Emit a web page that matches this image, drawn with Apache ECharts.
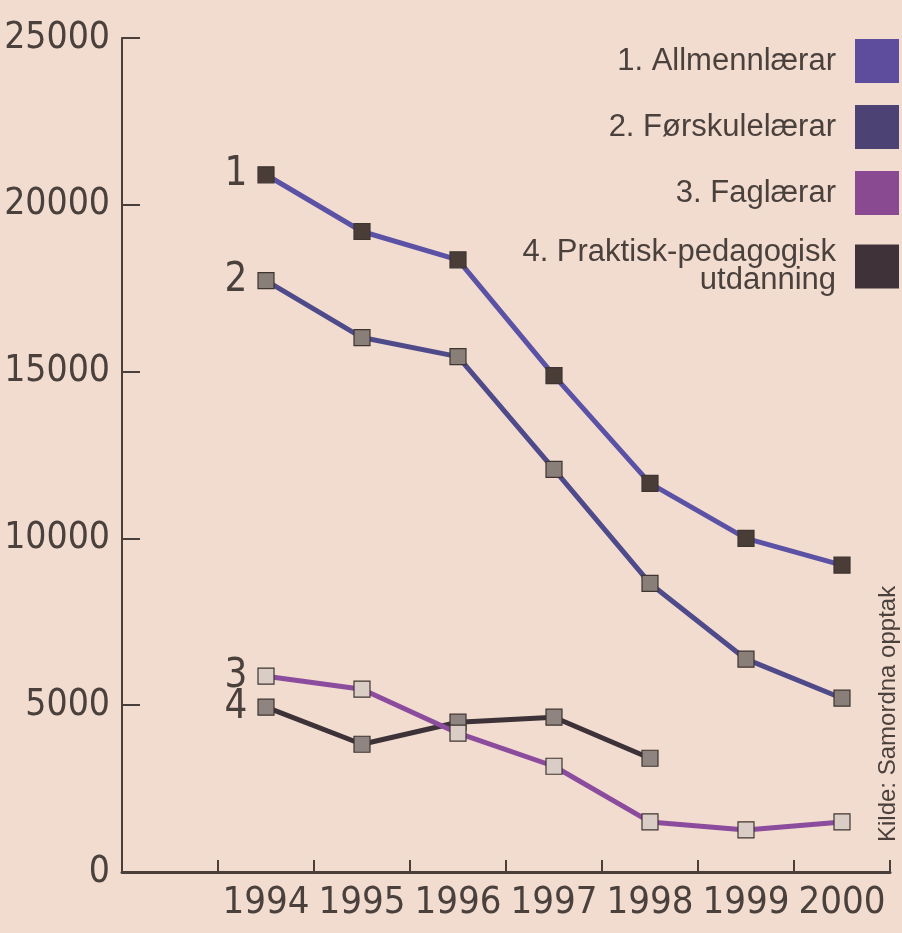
<!DOCTYPE html>
<html>
<head>
<meta charset="utf-8">
<script src="https://cdn.jsdelivr.net/npm/echarts@6/dist/echarts.min.js"></script>
<style>
  html, body { margin: 0; padding: 0; background: #f2dcd0; }
  #chart { width: 902px; height: 933px; }
</style>
</head>
<body>
<div id="chart"></div>
<script>
// first slot is empty on purpose: the axis has a blank band before 1994
var years = ['', '1994', '1995', '1996', '1997', '1998', '1999', '2000'];

var names = ['1. Allmennlærar', '2. Førskulelærar', '3. Faglærar', '4. Praktisk-pedagogisk\nutdanning'];
var allmenn = [null, 20900, 19200, 18350, 14880, 11650, 10000, 9200];
var forskule = [null, 17730, 16020, 15450, 12070, 8650, 6380, 5210];
var faglarar = [null, 5870, 5480, 4160, 3170, 1500, 1260, 1500];
var ppu = [null, 4940, 3830, 4490, 4640, 3410, null, null];

var lineColors = ['#5b52a6', '#4f4a8a', '#8c4c9e', '#3d3238'];
var boxColors = ['#5d4d9c', '#4c4274', '#8a4a92', '#3f3238'];
var markerColors = ['#4a3d38', '#8a7e78', '#d9cdc5', '#8f8480'];
var textColor = '#4a403c';
var narrow = "'DejaVu Sans Condensed', 'Liberation Sans Narrow', sans-serif";
var plain = "'Liberation Sans', Arial, sans-serif";

var chart = echarts.init(document.getElementById('chart'));

function makeSeries(i, data) {
    // number label ("1", "2", ...) sits left of the first point
    var points = data.map(function (v, k) {
        if (k !== 1) return v;
        return {
            value: v,
            label: {
                show: true, position: 'left', distance: 10,
                formatter: String(i + 1),
                fontSize: 40, fontFamily: narrow, color: textColor
            }
        };
    });
    return {
        name: names[i],
        type: 'line',
        data: points,
        symbol: 'rect',
        symbolSize: 16,
        z: 10 - i,
        lineStyle: { color: lineColors[i], width: 5 },
        itemStyle: { color: markerColors[i], borderColor: '#3e3430', borderWidth: 1.2 }
    };
}

var option = {
    backgroundColor: '#f2dcd0',
    animation: false,
    grid: { left: 122, right: 12, top: 38, bottom: 61, outerBoundsMode: 'none', containLabel: false },
    legend: {
        orient: 'vertical',
        right: -2,
        top: 34,
        align: 'right',
        itemWidth: 44,
        itemHeight: 44,
        itemGap: 22,
        selectedMode: false,
        data: names.map(function (n, i) {
            return { name: n, icon: 'rect', itemStyle: { color: boxColors[i], borderWidth: 0 } };
        }),
        textStyle: { fontSize: 31, fontFamily: plain, color: textColor, lineHeight: 28, align: 'right', padding: [0, 14, 0, 0] }
    },
    xAxis: {
        type: 'category',
        data: years,
        boundaryGap: true,
        axisLine: { lineStyle: { color: '#4a3f3a', width: 3 } },
        axisTick: { show: true, interval: 0, alignWithLabel: false, inside: true, length: 12, lineStyle: { color: '#4a3f3a', width: 2 } },
        axisLabel: { interval: 0, fontSize: 38, fontFamily: narrow, color: textColor, margin: 12 },
        splitLine: { show: false }
    },
    yAxis: {
        type: 'value',
        min: 0, max: 25000, interval: 5000,
        axisLine: { show: true, lineStyle: { color: '#4a3f3a', width: 2 } },
        axisTick: { show: true, inside: true, length: 18, lineStyle: { color: '#4a3f3a', width: 2 } },
        axisLabel: {
            fontSize: 37, fontFamily: narrow, color: textColor, margin: 12,
            formatter: function (v) { return String(v); }
        },
        splitLine: { show: false }
    },
    graphic: [{
        type: 'text',
        x: 876, y: 842,
        rotation: Math.PI / 2,
        style: { text: 'Kilde: Samordna opptak', fontSize: 24, fontFamily: plain, fill: textColor, textAlign: 'left', textVerticalAlign: 'top' }
    }],
    series: [
        makeSeries(0, allmenn),
        makeSeries(1, forskule),
        makeSeries(2, faglarar),
        makeSeries(3, ppu)
    ]
};

chart.setOption(option);
</script>
</body>
</html>
